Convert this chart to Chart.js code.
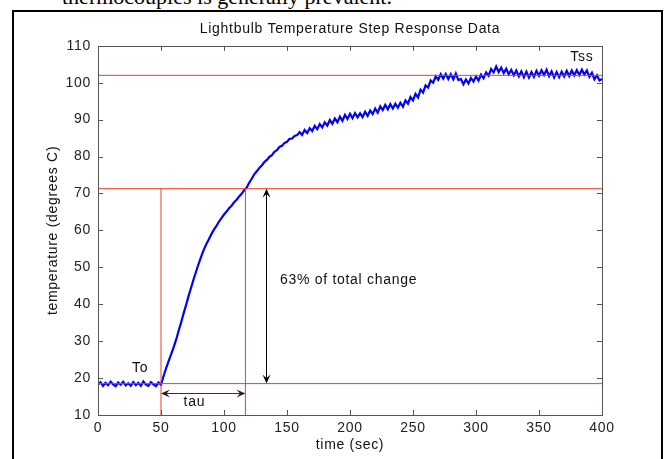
<!DOCTYPE html>
<html><head><meta charset="utf-8">
<script src="https://cdn.jsdelivr.net/npm/chart.js@4.4.1/dist/chart.umd.min.js"></script>
<style>
html,body{margin:0;padding:0;background:#fff;width:669px;height:459px;overflow:hidden;position:relative}
#frame{position:absolute;left:12px;top:10px;width:647px;height:470px;border:2px solid #000;border-bottom:none}
#doctext{position:absolute;left:62px;top:-14px;font-family:"Liberation Serif","Times New Roman",serif;font-size:22px;line-height:22px;color:#000;white-space:nowrap}
#wrap{position:absolute;left:0;top:0;width:669px;height:459px}
</style></head>
<body>
<div id="doctext">thermocouples is generally prevalent.</div>
<div id="frame"></div>
<div id="wrap"><canvas id="c" width="669" height="459"></canvas></div>
<script>
// ---- data (2 s sampling) ----
const sampleStep = 2;
const temps = [
 18.2,18.9,17.9,18.7,18.1,19.0,18.3,17.8,18.8,18.2,
 19.0,18.0,18.6,17.9,18.9,18.1,18.7,17.9,19.1,18.2,
 17.9,18.9,18.3,17.8,18.8,18.2,20.5,22.6,24.5,26.4,
 28.3,30.4,32.8,35.1,37.6,39.9,42.4,44.6,46.9,49.0,
 51.1,53.0,54.8,56.3,57.6,59.0,60.2,61.2,62.4,63.3,
 64.3,65.1,66.0,66.7,67.6,68.3,69.2,69.9,70.9,71.6,
 72.9,74.0,75.2,76.0,76.9,77.6,78.5,79.1,79.9,80.4,
 81.3,81.7,82.6,82.9,83.7,84.0,84.8,84.9,85.6,85.8,
 86.6,85.9,87.2,86.4,87.7,86.9,88.3,87.4,88.8,87.9,
 89.3,88.4,89.9,88.9,90.3,89.3,90.8,89.7,91.3,90.2,
 91.6,90.4,91.8,90.6,91.7,90.7,92.1,91.0,92.5,91.5,
 93.0,91.9,93.6,92.6,94.0,92.8,94.2,93.0,94.3,93.2,
 94.6,93.5,95.2,94.3,96.1,95.2,97.0,96.0,98.1,97.3,
 99.3,98.7,100.6,100.0,101.7,100.8,102.3,101.1,102.4,101.0,
 102.3,100.9,102.5,100.7,101.0,99.6,100.9,99.8,101.3,100.3,
 101.7,100.6,102.2,101.2,102.8,101.9,103.7,102.8,104.4,102.9,
 104.1,102.6,103.8,102.3,103.5,102.0,103.3,101.7,103.1,101.5,
 103.0,101.4,102.9,101.6,103.2,101.9,103.4,102.1,103.5,101.8,
 103.1,101.4,102.9,101.5,103.0,101.7,103.2,101.8,103.3,102.0,
 103.4,102.1,103.5,102.2,103.3,101.6,102.7,100.9,102.0,100.6,
 101.0
];
const sampleTimes = temps.map((_, i) => i * sampleStep);

// reference lines
const T0 = 18.5;          // initial temperature
const Tss = 102;          // steady state temperature
const T63 = 71.3;         // 63% level
const tStart = 50;        // step time
const tTau = 117;         // time at 63%
const tRange = [0, 400];
const arrowTime = 133;    // vertical arrow position
const tauArrowLevel = 15.9;

// axis ticks
const xTicks = [0, 50, 100, 150, 200, 250, 300, 350, 400];
const yTicks = [10, 20, 30, 40, 50, 60, 70, 80, 90, 100, 110];

// text annotations
const notes = [
  {text: 'To',  x: 33.5, y: 22.7, align: 'center'},
  {text: 'tau', x: 76.5, y: 13.4, align: 'center'},
  {text: 'Tss', x: 384,  y: 106.8, align: 'center'},
  {text: '63% of total change', x: 144.5, y: 46.6, align: 'left'}
];

const FONT = '"Liberation Sans", Arial, sans-serif';
const SPACING = '0.7px';
const RED = 'rgb(235,62,38)';
const AXIS = '#555';

const redLine = (pts) => ({type: 'line', data: pts, borderColor: RED, borderWidth: 1,
  pointRadius: 0, fill: false, tension: 0, order: 0});

const datasets = [
  redLine([{x: tRange[0], y: Tss}, {x: tRange[1], y: Tss}]),
  redLine([{x: tRange[0], y: T63}, {x: tRange[1], y: T63}]),
  redLine([{x: tRange[0], y: T0}, {x: tRange[1], y: T0}]),
  redLine([{x: tStart, y: 10}, {x: tStart, y: T63}]),
  redLine([{x: tTau, y: 10}, {x: tTau, y: T63}]),
  {type: 'line', data: sampleTimes.map((t, i) => ({x: t, y: temps[i]})),
   borderColor: '#0000ff', borderWidth: 2.2, pointRadius: 0, fill: false, tension: 0, order: 1}
];

function arrowHead(ctx, x, y, dx, dy) {
  const len = 9, half = 4;
  const px = -dy, py = dx;
  ctx.beginPath();
  ctx.moveTo(x, y);
  ctx.lineTo(x - dx * len + px * half, y - dy * len + py * half);
  ctx.lineTo(x - dx * len * 0.6, y - dy * len * 0.6);
  ctx.lineTo(x - dx * len - px * half, y - dy * len - py * half);
  ctx.closePath();
  ctx.fill();
}

const spacing = {
  id: 'spacing',
  beforeUpdate(chart) { chart.ctx.letterSpacing = SPACING; },
  beforeLayout(chart) { chart.ctx.letterSpacing = SPACING; },
  beforeDraw(chart) { chart.ctx.letterSpacing = SPACING; }
};

const decor = {
  id: 'decor',
  afterDatasetsDraw(chart) {
    const {ctx, chartArea: a, scales: {x, y}} = chart;
    ctx.save();
    // axes box
    ctx.strokeStyle = AXIS; ctx.lineWidth = 1;
    ctx.strokeRect(Math.round(a.left) + 0.5, Math.round(a.top) + 0.5,
      Math.round(a.right - a.left), Math.round(a.bottom - a.top));
    // inward ticks
    const tl = 5;
    ctx.beginPath();
    xTicks.forEach(v => {
      const p = Math.round(x.getPixelForValue(v)) + 0.5;
      ctx.moveTo(p, a.bottom); ctx.lineTo(p, a.bottom - tl);
      ctx.moveTo(p, a.top); ctx.lineTo(p, a.top + tl);
    });
    yTicks.forEach(v => {
      const p = Math.round(y.getPixelForValue(v)) + 0.5;
      ctx.moveTo(a.left, p); ctx.lineTo(a.left + tl, p);
      ctx.moveTo(a.right, p); ctx.lineTo(a.right - tl, p);
    });
    ctx.stroke();
    // vertical double arrow
    const ax = Math.round(x.getPixelForValue(arrowTime)) + 0.5;
    const ay1 = y.getPixelForValue(T63), ay2 = y.getPixelForValue(T0);
    ctx.strokeStyle = '#000'; ctx.fillStyle = '#000'; ctx.lineWidth = 1;
    ctx.beginPath(); ctx.moveTo(ax, ay1 + 3); ctx.lineTo(ax, ay2 - 3); ctx.stroke();
    arrowHead(ctx, ax, ay1, 0, -1);
    arrowHead(ctx, ax, ay2, 0, 1);
    // horizontal double arrow (tau)
    const hy = Math.round(y.getPixelForValue(tauArrowLevel)) + 0.5;
    const hx1 = x.getPixelForValue(tStart), hx2 = x.getPixelForValue(tTau);
    ctx.strokeStyle = '#333'; ctx.fillStyle = '#222';
    ctx.beginPath(); ctx.moveTo(hx1 + 3, hy); ctx.lineTo(hx2 - 3, hy); ctx.stroke();
    arrowHead(ctx, hx1, hy, -1, 0);
    arrowHead(ctx, hx2, hy, 1, 0);
    // text notes
    ctx.fillStyle = '#111';
    ctx.font = '14px ' + FONT;
    ctx.letterSpacing = SPACING;
    ctx.textBaseline = 'middle';
    notes.forEach(n => {
      ctx.textAlign = n.align;
      ctx.fillText(n.text, x.getPixelForValue(n.x), y.getPixelForValue(n.y));
    });
    ctx.restore();
  }
};

Chart.defaults.font.family = FONT;
Chart.defaults.font.size = 14;
Chart.defaults.color = '#222';

new Chart(document.getElementById('c'), {
  type: 'line',
  data: {datasets},
  options: {
    responsive: false,
    animation: false,
    events: [],
    layout: {padding: {left: 40, right: 67, top: 10, bottom: 4}},
    plugins: {
      legend: {display: false},
      tooltip: {enabled: false},
      title: {display: true, fullSize: false, text: 'Lightbulb Temperature Step Response Data',
        color: '#111', font: {size: 14, weight: 'normal'}, padding: {top: 11, bottom: 8}}
    },
    scales: {
      x: {type: 'linear', min: 0, max: 400,
        afterFit(s) { s.height = 40; },
        afterBuildTicks(s) { s.ticks = xTicks.map(v => ({value: v})); },
        grid: {display: false, drawTicks: false},
        border: {display: false},
        ticks: {padding: 5, maxRotation: 0, autoSkip: false, color: '#222'},
        title: {display: true, text: 'time (sec)', color: '#111', padding: {top: 0, bottom: 1}}
      },
      y: {type: 'linear', min: 10, max: 110,
        afterFit(s) { s.width = 58; },
        afterBuildTicks(s) { s.ticks = yTicks.map(v => ({value: v})); },
        grid: {display: false, drawTicks: false},
        border: {display: false},
        ticks: {padding: 7, autoSkip: false, color: '#222'},
        title: {display: true, text: 'temperature (degrees C)', color: '#111', padding: {top: 5, bottom: 0}}
      }
    }
  },
  plugins: [spacing, decor]
});
</script>
</body></html>
